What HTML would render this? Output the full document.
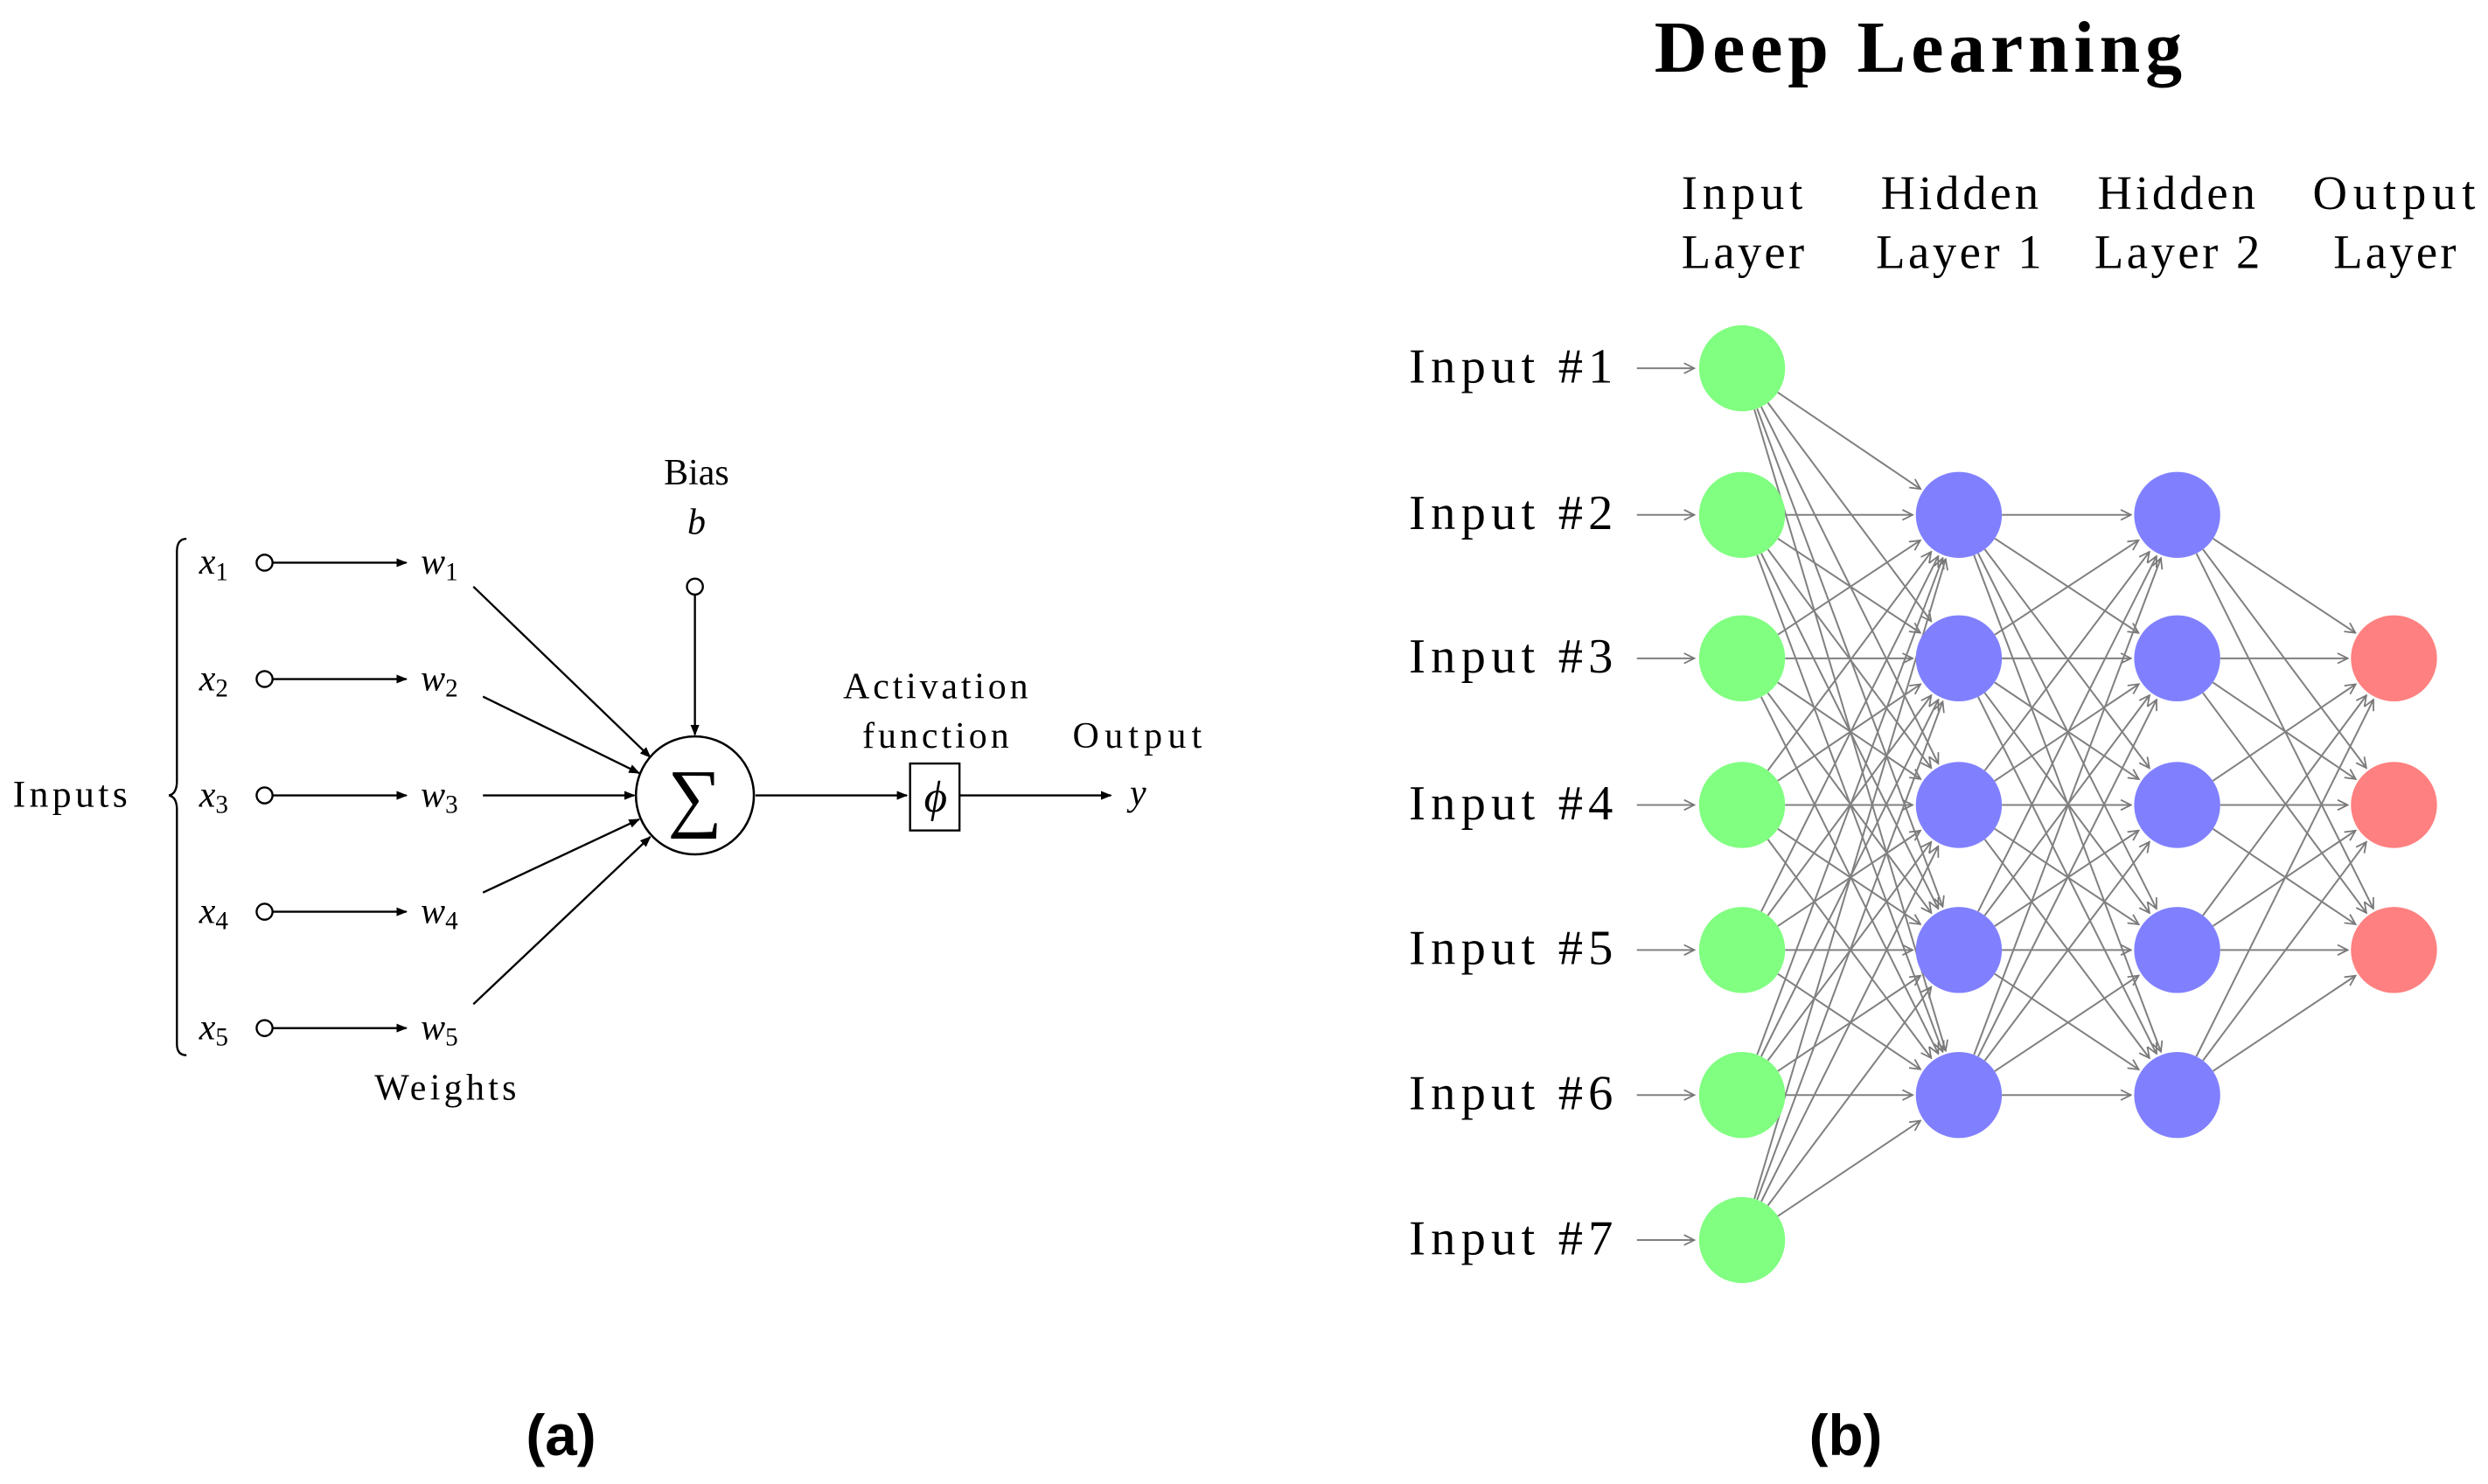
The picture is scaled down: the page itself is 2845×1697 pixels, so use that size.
<!DOCTYPE html>
<html><head><meta charset="utf-8"><style>
html,body{margin:0;padding:0;background:#fff;}
svg{display:block;}
text{font-family:"Liberation Serif",serif;fill:#000;}
</style></head><body>
<svg id="s" width="2845" height="1697" viewBox="0 0 1561 931" xmlns="http://www.w3.org/2000/svg">
<defs>
<marker id="ab" viewBox="0 0 10 10" refX="9" refY="5" markerWidth="7" markerHeight="7" orient="auto" markerUnits="userSpaceOnUse"><path d="M0,1 L10,5 L0,9 Z" fill="#000"/></marker>
<marker id="ag" viewBox="0 0 10 10" refX="9" refY="5" markerWidth="8" markerHeight="8" orient="auto" markerUnits="userSpaceOnUse"><path d="M1,1 L9,5 L1,9" fill="none" stroke="#777" stroke-width="1.2"/></marker>
</defs>
<g stroke="#000" stroke-width="1.3" fill="none">
<path d="M117,338 Q111,338 111,346 L111,490 Q111,498 106,499 Q111,500 111,508 L111,655 Q111,662 117,662"/>
</g>
<text x="8" y="506" font-size="24" textLength="72" lengthAdjust="spacing">Inputs</text>
<g id="rowsA"></g>
<circle cx="436" cy="499" r="37" fill="none" stroke="#000" stroke-width="1.4"/>
<text x="436" y="516" font-size="48" text-anchor="middle">∑</text>
<text x="437" y="304" font-size="23" text-anchor="middle">Bias</text>
<text x="437" y="335" font-size="23" font-style="italic" text-anchor="middle">b</text>
<circle cx="436" cy="368" r="5" fill="#fff" stroke="#000" stroke-width="1.3"/>
<line x1="436" y1="373" x2="436" y2="461" stroke="#000" stroke-width="1.3" marker-end="url(#ab)"/>
<g stroke="#000" stroke-width="1.3" marker-end="url(#ab)">
<line x1="297" y1="368" x2="408" y2="475"/>
<line x1="303" y1="437" x2="401" y2="485"/>
<line x1="303" y1="499" x2="398" y2="499"/>
<line x1="303" y1="560" x2="401" y2="514"/>
<line x1="297" y1="630" x2="408" y2="525"/>
<line x1="474" y1="499" x2="569" y2="499"/>
<line x1="602" y1="499" x2="697" y2="499"/>
</g>
<rect x="571" y="479" width="31" height="42" fill="none" stroke="#000" stroke-width="1.3"/>
<text x="587" y="509" font-size="28" font-style="italic" text-anchor="middle">ϕ</text>
<text x="529" y="438" font-size="23" textLength="116" lengthAdjust="spacing">Activation</text>
<text x="541" y="469" font-size="23" textLength="92" lengthAdjust="spacing">function</text>
<text x="673" y="469" font-size="23" textLength="81" lengthAdjust="spacing">Output</text>
<text x="714" y="505" font-size="23" font-style="italic" text-anchor="middle">y</text>
<text x="235" y="690" font-size="23" textLength="89" lengthAdjust="spacing">Weights</text>
<text x="352" y="913" font-size="36" font-weight="bold" text-anchor="middle" style="font-family:'Liberation Sans',sans-serif">(a)</text>
<text x="1038" y="45" font-size="46" font-weight="bold" textLength="331" lengthAdjust="spacing">Deep Learning</text>
<g font-size="30">
<text x="1055" y="131" textLength="76" lengthAdjust="spacing">Input</text><text x="1055" y="168" textLength="77" lengthAdjust="spacing">Layer</text>
<text x="1180" y="131" textLength="99" lengthAdjust="spacing">Hidden</text><text x="1177" y="168" textLength="104" lengthAdjust="spacing">Layer 1</text>
<text x="1316" y="131" textLength="99" lengthAdjust="spacing">Hidden</text><text x="1314" y="168" textLength="104" lengthAdjust="spacing">Layer 2</text>
<text x="1451" y="131" textLength="102" lengthAdjust="spacing">Output</text><text x="1464" y="168" textLength="77" lengthAdjust="spacing">Layer</text>
</g>
<g id="edges" stroke="#808080" stroke-width="1.1" fill="none"></g>
<g id="nodes"></g>
<text x="1158" y="913" font-size="36" font-weight="bold" text-anchor="middle" style="font-family:'Liberation Sans',sans-serif">(b)</text>
</svg>
<script>
var NS="http://www.w3.org/2000/svg";
function el(t,a,p,txt){var e=document.createElementNS(NS,t);for(var k in a)e.setAttribute(k,a[k]);if(txt)e.textContent=txt;p.appendChild(e);return e;}
var ra=document.getElementById("rowsA");
var ys=[353,426,499,572,645];
ys.forEach(function(y,i){
 var t=el("text",{x:125,y:y+7,"font-size":23,"font-style":"italic"},ra,"x");
 el("tspan",{"font-size":16,"font-style":"normal",dy:4},t,String(i+1));
 el("circle",{cx:166,cy:y,r:5,fill:"#fff",stroke:"#000","stroke-width":1.3},ra);
 el("line",{x1:171,y1:y,x2:255,y2:y,stroke:"#000","stroke-width":1.3,"marker-end":"url(#ab)"},ra);
 var w=el("text",{x:264,y:y+7,"font-size":23,"font-style":"italic"},ra,"w");
 el("tspan",{"font-size":16,"font-style":"normal",dy:4},w,String(i+1));
});
var R=27,cols=[1093,1229,1366,1502];
var L=[[231,323,413,505,596,687,778],[323,413,505,596,687],[323,413,505,596,687],[413,505,596]];
var colors=["#80ff80","#8080ff","#8080ff","#ff8080"];
var eg=document.getElementById("edges"),ng=document.getElementById("nodes");
for(var l=0;l<3;l++){L[l].forEach(function(y1){L[l+1].forEach(function(y2){
 var x1=cols[l],x2=cols[l+1],dx=x2-x1,dy=y2-y1,d=Math.sqrt(dx*dx+dy*dy),ux=dx/d,uy=dy/d;
 el("line",{x1:x1+ux*R,y1:y1+uy*R,x2:x2-ux*(R+2),y2:y2-uy*(R+2),"marker-end":"url(#ag)"},eg);
});});}
L[0].forEach(function(y,i){
 el("text",{x:884,y:y+9,"font-size":31,textLength:128,lengthAdjust:"spacing"},ng,"Input #"+(i+1));
 el("line",{x1:1027,y1:y,x2:1063,y2:y,stroke:"#808080","stroke-width":1.1,"marker-end":"url(#ag)"},eg);
});
for(var l=0;l<4;l++)L[l].forEach(function(y){el("circle",{cx:cols[l],cy:y,r:R,fill:colors[l]},ng);});
</script>
</body></html>
